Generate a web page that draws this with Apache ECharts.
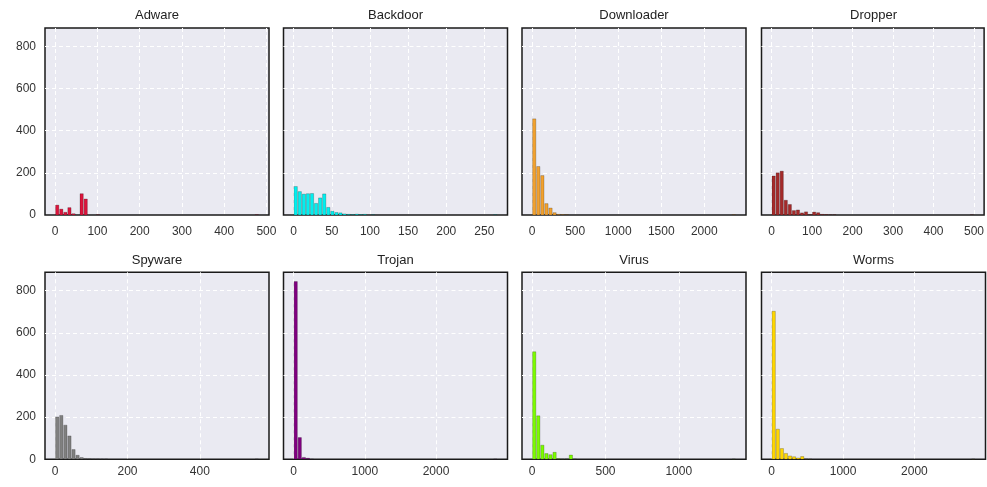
<!DOCTYPE html>
<html><head><meta charset="utf-8">
<script src="https://cdn.jsdelivr.net/npm/echarts@6/dist/echarts.min.js"></script>
<style>html,body{margin:0;padding:0;background:#fff}#c{width:987px;height:487px}</style>
</head><body><div id="c"></div>
<script>
const categories = ['Adware','Backdoor','Downloader','Dropper','Spyware','Trojan','Virus','Worms'];
const barColors = ['#DC143C','#00F0F0','#F2A12E','#A52A2A','#808080','#800080','#7CFC00','#FFD700'];
// largest value of each family (histogram range is 0..max, 50 bins)
const dataMax = [482, 267, 2367, 500, 563, 2861, 1389, 2853];
const binCount = 50;

const adwareCounts     = [47,28,13,35,6,0,101,76,0,0, 1,0,0,0,0,0,0,0,0,0, 0,0,0,0,0,0,0,0,0,0, 0,0,0,0,0,0,0,0,0,0, 0,0,0,0,0,0,0,0,0,1];
const backdoorCounts   = [135,111,99,101,102,55,81,100,36,18, 12,10,5,3,2,4,2,3,0,1, 0,0,0,0,0,0,0,0,0,0, 0,0,0,0,0,0,0,0,0,0, 0,0,0,0,0,0,0,0,0,1];
const downloaderCounts = [456,230,187,54,33,11,3,2,1,0, 0,0,0,0,0,0,0,0,0,0, 0,0,0,0,0,0,0,0,0,0, 0,0,0,0,0,0,0,0,0,0, 0,0,0,0,0,0,0,0,0,1];
const dropperCounts    = [185,200,208,70,50,21,24,10,15,2, 14,11,3,2,1,1,0,0,0,0, 0,0,0,0,0,0,0,0,0,0, 0,0,0,0,0,0,0,0,0,0, 0,0,0,0,0,0,0,0,0,1];
const spywareCounts    = [201,208,162,111,46,19,8,4,3,2, 2,1,1,0,0,0,0,0,0,0, 0,0,0,0,0,0,0,0,0,0, 0,0,0,0,0,0,0,0,0,0, 0,0,0,0,0,0,0,0,0,1];
const trojanCounts     = [843,103,9,5,1,0,0,0,0,0, 0,0,0,0,0,0,0,0,0,0, 0,0,0,0,0,0,0,0,0,0, 0,0,0,0,0,0,0,0,0,0, 0,0,0,0,0,0,0,0,0,1];
const virusCounts      = [510,206,67,27,22,33,3,1,2,20, 1,0,0,0,0,0,0,0,0,0, 0,0,0,0,0,0,0,0,0,0, 0,0,0,0,0,0,0,0,0,0, 0,0,0,0,0,0,0,0,0,1];
const wormsCounts      = [702,143,51,28,16,12,6,13,2,1, 0,0,0,0,0,0,0,0,0,0, 0,0,0,0,0,0,0,0,0,0, 0,0,0,0,0,0,0,0,0,0, 0,0,0,0,0,0,0,0,0,1];
const allCounts = [adwareCounts, backdoorCounts, downloaderCounts, dropperCounts, spywareCounts, trojanCounts, virusCounts, wormsCounts];

const adwareTicks     = [0,100,200,300,400,500];
const backdoorTicks   = [0,50,100,150,200,250];
const downloaderTicks = [0,500,1000,1500,2000];
const dropperTicks    = [0,100,200,300,400,500];
const spywareTicks    = [0,200,400];
const trojanTicks     = [0,1000,2000];
const virusTicks      = [0,500,1000];
const wormsTicks      = [0,1000,2000];
const allXTicks = [adwareTicks, backdoorTicks, downloaderTicks, dropperTicks, spywareTicks, trojanTicks, virusTicks, wormsTicks];
const yTicks = [0,200,400,600,800];
const yGridTicks = [200,400,600,800];
const yMax = 887;

const lefts = [45, 283.5, 522, 761.5];
const panelW = 224;
const tops = [28, 272.3];
const panelH = 187;
const rwidth = 0.8;
const font = 'Liberation Sans, Arial, sans-serif';
const plain = v => String(v);

const grids = [], xAxes = [], yAxes = [], series = [], titles = [];
categories.forEach((name, i) => {
  const row = Math.floor(i / 4), col = i % 4;
  grids.push({left: lefts[col], top: tops[row], width: panelW, height: panelH,
    show: true, backgroundColor: '#EAEAF2', borderColor: '#1a1a1a', borderWidth: 1.5, containLabel: false});
  const mx = dataMax[i];
  const bw = mx / binCount;
  xAxes.push({type: 'value', gridIndex: i, min: -0.05 * mx, max: 1.05 * mx,
    axisLine: {show: false}, axisTick: {show: false, customValues: allXTicks[i]},
    axisLabel: {customValues: allXTicks[i], formatter: plain, color: '#333', fontSize: 12, fontFamily: font, margin: row === 0 ? 11 : 6},
    splitLine: {show: true, lineStyle: {color: '#ffffff', type: [4, 3], width: 1}}});
  yAxes.push({type: 'value', gridIndex: i, min: 0, max: yMax,
    axisLine: {show: false}, axisTick: {show: false, customValues: yGridTicks},
    axisLabel: {show: col === 0, customValues: yTicks, formatter: plain, color: '#333', fontSize: 12, fontFamily: font, margin: 9},
    splitLine: {show: true, lineStyle: {color: '#ffffff', type: [4, 3], width: 1}}});
  const data = allCounts[i].map((c, k) => [k * bw, (k + 1) * bw, c]);
  series.push({type: 'custom', xAxisIndex: i, yAxisIndex: i, clip: true,
    encode: {x: [0, 1], y: 2}, data: data,
    itemStyle: {color: barColors[i]},
    renderItem: function (params, api) {
      const x0 = api.value(0), x1 = api.value(1), h = api.value(2);
      if (!h) return null;
      const pad = (x1 - x0) * (1 - rwidth) / 2;
      const p0 = api.coord([x0 + pad, h]);
      const p1 = api.coord([x1 - pad, 0]);
      return {type: 'rect', shape: {x: p0[0], y: p0[1], width: p1[0] - p0[0], height: p1[1] - p0[1]},
        style: {fill: barColors[i], stroke: 'rgba(0,0,0,0.35)', lineWidth: 0.6}};
    }});
  titles.push({text: name, left: lefts[col] + panelW / 2, top: row === 0 ? 9 : 254, textAlign: 'center', padding: 0,
    textStyle: {fontSize: 13, fontWeight: 'normal', color: '#222', fontFamily: font}});
});

const chart = echarts.init(document.getElementById('c'), null, {renderer: 'canvas'});
chart.setOption({animation: false, backgroundColor: '#ffffff', title: titles, grid: grids, xAxis: xAxes, yAxis: yAxes, series: series});
</script></body></html>
